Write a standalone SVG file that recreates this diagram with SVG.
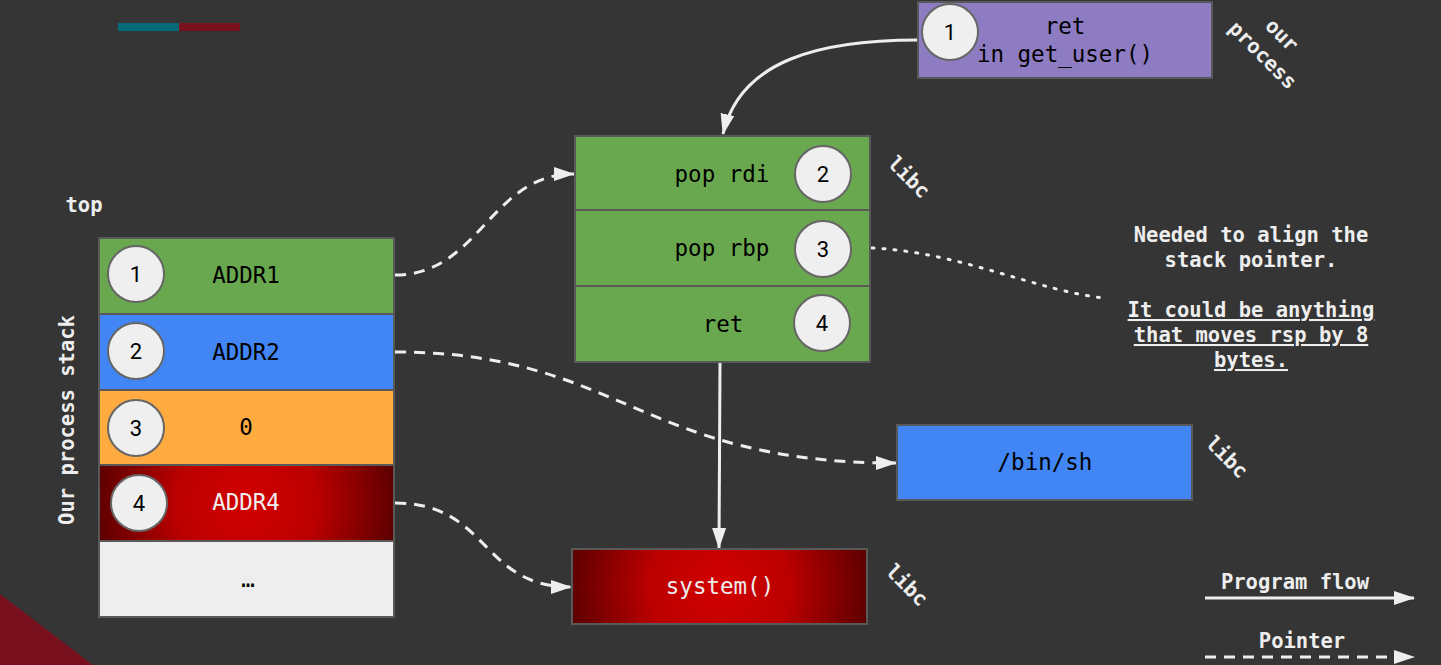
<svg xmlns="http://www.w3.org/2000/svg" width="1441" height="665" viewBox="0 0 1441 665">
<defs>
<style>
.box{stroke:#595959;stroke-width:2}
.circ{fill:#efefef;stroke:#666;stroke-width:2}
.num{font-family:Roboto,"Liberation Sans",sans-serif;font-size:22px;fill:#000;text-anchor:middle}
.mono{font-family:"DejaVu Sans Mono","Liberation Mono",monospace;font-size:22.5px;fill:#000;text-anchor:middle}
.lbl{font-family:"DejaVu Sans Mono","Liberation Mono",monospace;font-size:20.5px;font-weight:bold;fill:#eeeeee;text-anchor:middle}
.flow{fill:none;stroke:#eeeeee;stroke-width:3}
.ptr{fill:none;stroke:#eeeeee;stroke-width:3;stroke-dasharray:11 8}
.dot{fill:none;stroke:#eeeeee;stroke-width:3;stroke-dasharray:2 9;stroke-linecap:round}
</style>
<marker id="ah" markerUnits="userSpaceOnUse" markerWidth="22" markerHeight="16" refX="20" refY="8" orient="auto">
<path d="M0,1 L21,8 L0,15 z" fill="#eeeeee"/>
</marker>
<radialGradient id="redA" gradientUnits="userSpaceOnUse" cx="246.5" cy="503" r="156">
<stop offset="0" stop-color="#d20000"/>
<stop offset="0.45" stop-color="#bb0000"/>
<stop offset="1" stop-color="#560000"/>
</radialGradient>
<radialGradient id="redS" gradientUnits="userSpaceOnUse" cx="719.5" cy="586.5" r="156">
<stop offset="0" stop-color="#d20000"/>
<stop offset="0.45" stop-color="#bb0000"/>
<stop offset="1" stop-color="#560000"/>
</radialGradient>
</defs>
<rect width="1441" height="665" fill="#353535"/>
<rect x="118" y="23" width="61" height="8" fill="#006a7a"/>
<rect x="179" y="23" width="61" height="8" fill="#78101e"/>
<polygon points="0,594 0,665 93,665" fill="#78101e"/>

<g id="connectors">
<path class="flow" d="M918,40 C820,40 740,60 723,134" marker-end="url(#ah)"/>
<path class="flow" d="M720,362 L719,548" marker-end="url(#ah)"/>
<path class="ptr" d="M395,275 C480,275 490,174 574,174" marker-end="url(#ah)"/>
<path class="ptr" d="M395,352 C620,352 640,463 896,463" marker-end="url(#ah)"/>
<path class="ptr" d="M395,503 C490,503 480,587 571,587" marker-end="url(#ah)"/>
<path class="dot" d="M872,248 C960,252 1040,292 1105,298"/>
</g>

<g id="node-getuser">
<rect class="box" x="918" y="2" width="294" height="76" fill="#8e7cc3"/>
<circle class="circ" cx="950" cy="32" r="28"/>
<text class="num" x="950" y="40">1</text>
<text class="mono" x="1065" y="34">ret</text>
<text class="mono" x="1065" y="62">in get_user()</text>
</g>
<text class="lbl" transform="translate(1277,40) rotate(45)">our</text>
<text class="lbl" transform="translate(1258,60) rotate(45)">process</text>

<g id="node-gadget">
<rect class="box" x="575" y="136" width="295" height="74" fill="#6aa84f"/>
<rect class="box" x="575" y="210" width="295" height="76" fill="#6aa84f"/>
<rect class="box" x="575" y="286" width="295" height="76" fill="#6aa84f"/>
<text class="mono" x="722" y="182">pop rdi</text>
<text class="mono" x="722" y="256">pop rbp</text>
<text class="mono" x="723" y="332">ret</text>
<circle class="circ" cx="823" cy="174" r="28"/>
<text class="num" x="823" y="182">2</text>
<circle class="circ" cx="823" cy="249" r="28"/>
<text class="num" x="823" y="257">3</text>
<circle class="circ" cx="822" cy="323" r="28"/>
<text class="num" x="822" y="331">4</text>
</g>
<text class="lbl" transform="translate(904,182) rotate(45)">libc</text>

<g id="node-note">
<text class="lbl" x="1251" y="242">Needed to align the</text>
<text class="lbl" x="1251" y="267">stack pointer.</text>
<text class="lbl" x="1251" y="317" text-decoration="underline">It could be anything</text>
<text class="lbl" x="1251" y="342" text-decoration="underline">that moves rsp by 8</text>
<text class="lbl" x="1251" y="367" text-decoration="underline">bytes.</text>
</g>

<g id="node-stack">
<rect class="box" x="99" y="238" width="295" height="76" fill="#6aa84f"/>
<rect class="box" x="99" y="314" width="295" height="76" fill="#4285f4"/>
<rect class="box" x="99" y="390" width="295" height="75" fill="#ffab40"/>
<rect class="box" x="99" y="465" width="295" height="76" fill="url(#redA)"/>
<rect class="box" x="99" y="541" width="295" height="76" fill="#eeeeee"/>
<circle class="circ" cx="136" cy="274" r="28"/>
<text class="num" x="136" y="282">1</text>
<circle class="circ" cx="136" cy="351" r="28"/>
<text class="num" x="136" y="359">2</text>
<circle class="circ" cx="136" cy="428" r="28"/>
<text class="num" x="136" y="436">3</text>
<circle class="circ" cx="139" cy="503" r="28"/>
<text class="num" x="139" y="511">4</text>
<text class="mono" x="246" y="283">ADDR1</text>
<text class="mono" x="246" y="360">ADDR2</text>
<text class="mono" x="246" y="435">0</text>
<text class="mono" x="246" y="510" style="fill:#eeeeee">ADDR4</text>
<text class="mono" x="248" y="587">…</text>
</g>
<text class="lbl" x="84" y="212">top</text>
<text class="lbl" transform="translate(74,420) rotate(-90)">Our process stack</text>

<g id="node-binsh">
<rect class="box" x="897" y="425" width="295" height="75" fill="#4285f4"/>
<text class="mono" x="1045" y="470">/bin/sh</text>
</g>
<text class="lbl" transform="translate(1222,462) rotate(45)">libc</text>

<g id="node-system">
<rect class="box" x="572" y="549" width="295" height="75" fill="url(#redS)"/>
<text class="mono" x="720" y="594" style="fill:#eeeeee">system()</text>
</g>
<text class="lbl" transform="translate(902,590) rotate(45)">libc</text>

<g id="legend">
<text class="lbl" x="1295" y="589">Program flow</text>
<path class="flow" d="M1205,598 L1414,598" marker-end="url(#ah)"/>
<text class="lbl" x="1302" y="648">Pointer</text>
<path class="ptr" d="M1205,657 L1414,657" marker-end="url(#ah)"/>
</g>
</svg>
